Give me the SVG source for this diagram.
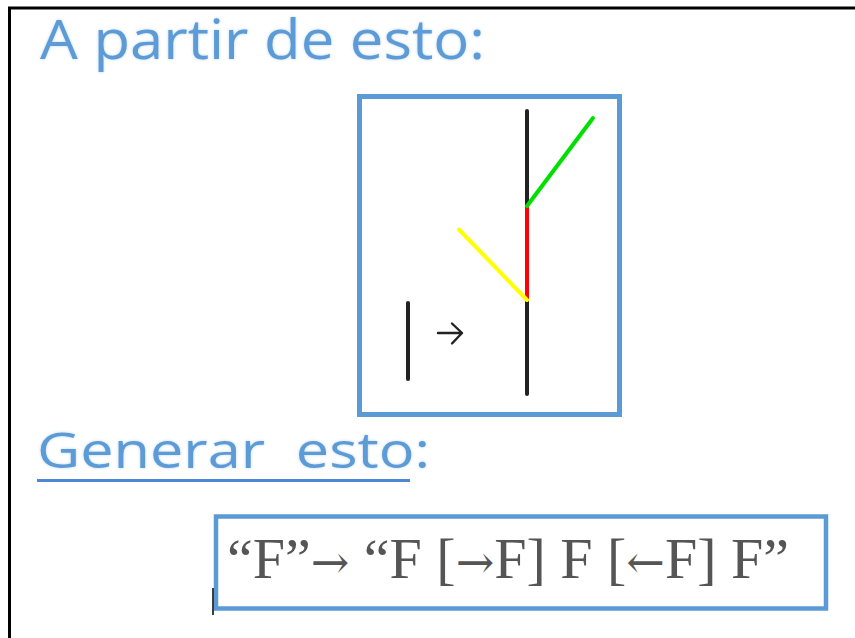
<svg xmlns="http://www.w3.org/2000/svg" width="855" height="638" viewBox="0 0 855 638">
  <style>
    .title { font-family: "Open Sans", "Liberation Sans", sans-serif; fill: #5b9bd5; white-space: pre; font-weight: 500; }
    .box { fill: #ffffff; stroke: #5b9bd5; }
    .formula { font-family: "Liberation Serif", "Times New Roman", serif; fill: #555555; font-size: 58px; white-space: pre; }
    .arr { font-family: "DejaVu Serif", serif; font-size: 46px; }
    .blk { stroke: #222222; stroke-width: 4; stroke-linecap: round; fill: none; }
  </style>
  <defs>
    <filter id="glow" x="-5%" y="-20%" width="110%" height="140%">
      <feGaussianBlur in="SourceAlpha" stdDeviation="1.6" result="b"/>
      <feFlood flood-color="#9fc3e8" flood-opacity="0.7"/>
      <feComposite in2="b" operator="in" result="g"/>
      <feMerge><feMergeNode in="g"/><feMergeNode in="SourceGraphic"/></feMerge>
    </filter>
  </defs>
  <rect width="855" height="638" fill="#ffffff"/>
  <!-- outer frame (top and left only visible) -->
  <path d="M9.5 638 V8 H855" fill="none" stroke="#000000" stroke-width="3"/>

  <g id="title1">
    <text class="title" x="40" y="59" font-size="54" textLength="445" lengthAdjust="spacingAndGlyphs" filter="url(#glow)">A partir de esto:</text>
  </g>

  <g id="source-box">
    <rect class="box" x="359.5" y="96.5" width="260" height="318" stroke-width="5"/>
    <line class="blk" x1="408" y1="303" x2="408" y2="379"/>
    <path d="M438 333 H462 M452 323.5 L462 333 L452 343.5" fill="none" stroke="#222222" stroke-width="2.4" stroke-linecap="round" stroke-linejoin="round"/>
    <line class="blk" x1="527" y1="111" x2="527" y2="206"/>
    <line class="blk" x1="527" y1="300" x2="527" y2="394"/>
    <line x1="527" y1="206" x2="527" y2="300" stroke="#ff0000" stroke-width="4"/>
    <line x1="527" y1="206" x2="593" y2="118" stroke="#00e000" stroke-width="4" stroke-linecap="round"/>
    <line x1="459" y1="229.5" x2="527" y2="300" stroke="#ffff00" stroke-width="4" stroke-linecap="round"/>
  </g>

  <g id="title2">
    <text class="title" x="37" y="468" font-size="49" textLength="393" lengthAdjust="spacingAndGlyphs" filter="url(#glow)">Generar  esto:</text>
    <line x1="37" y1="480.5" x2="410" y2="480.5" stroke="#4f86d6" stroke-width="3"/>
  </g>

  <g id="formula-box">
    <rect class="box" x="216" y="516.5" width="610" height="92" stroke-width="4.5"/>
    <text class="formula" x="227" y="578">“F”<tspan class="arr">→</tspan> “F [<tspan class="arr">→</tspan>F] F [<tspan class="arr">←</tspan>F] F”</text>
  </g>

  <g id="cursor">
    <line x1="213" y1="588" x2="213" y2="615" stroke="#000000" stroke-width="1.5"/>
  </g>
</svg>
